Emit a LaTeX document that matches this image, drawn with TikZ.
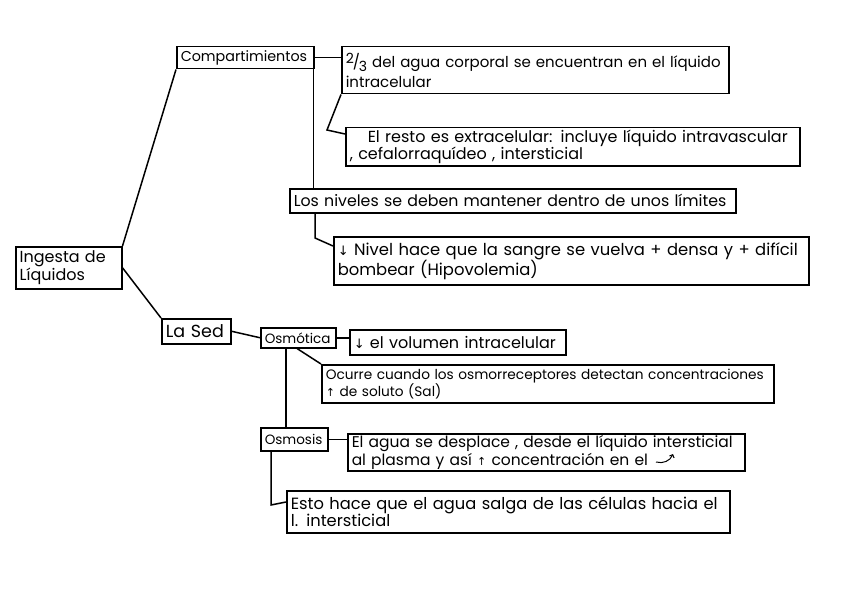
\documentclass[tikz,border=0pt]{standalone}
\usepackage{fontspec}
\setmainfont{Poppins}[WordSpace=1.5]
\newfontfamily\arr{DejaVu Sans}
\usetikzlibrary{calc,arrows.meta}
\newcommand{\hw}{\fontsize{16}{16.5}\selectfont}
\newcommand{\hwsmall}{\fontsize{13.5}{16}\selectfont}
\newcommand{\dn}{{\arr\fontsize{13}{16}\selectfont ↓}}
\newcommand{\up}{{\arr\fontsize{11}{16}\selectfont ↑}}
\tikzset{
  box/.style={draw, line width=1.5pt, anchor=north west, inner xsep=4pt, inner ysep=1pt, align=left, font=\hw},
  link/.style={line width=1.5pt}
}
\begin{document}
\begin{tikzpicture}[x=1pt,y=-1pt]
\useasboundingbox (0,0) rectangle (848,599);
\node[box, minimum width=106pt, minimum height=42pt, text width=98pt] (ing) at (15,246) {\mbox{Ingesta de}\\ \mbox{Líquidos}};
\node[box, font=\fontsize{14.3}{16}\selectfont, minimum width=137pt, minimum height=22pt, text width=129pt] (comp) at (176,46) {\mbox{Compartimientos}};
\node[box, font=\fontsize{15}{17}\selectfont, minimum width=387pt, minimum height=47pt, text width=379pt] (dos) at (341,46) {\mbox{\raisebox{4pt}{\fontsize{14}{16}\selectfont 2}\kern-1pt{/}\kern-1pt\raisebox{-4pt}{\fontsize{14}{16}\selectfont 3} del agua corporal se encuentran en el líquido}\\[3pt] \mbox{intracelular}};
\node[box, minimum width=454pt, minimum height=38pt, text width=446pt] (resto) at (345,127) {\mbox{\hspace*{18pt}El resto es extracelular: incluye líquido intravascular}\\ \mbox{, cefalorraquídeo , intersticial}};
\node[box, font=\fontsize{15.8}{16}\selectfont, minimum width=446pt, minimum height=24pt, text width=438pt] (niv) at (289,188) {\mbox{Los niveles se deben mantener dentro de unos límites}};
\node[box, font=\fontsize{16.4}{20}\selectfont, minimum width=475pt, minimum height=48pt, text width=467pt] (nivel) at (333,236) {\mbox{\dn{} Nivel hace que la sangre se vuelva + densa y + difícil}\\ \mbox{bombear (Hipovolemia)}};
\node[box, font=\fontsize{17.5}{18}\selectfont, minimum width=69pt, minimum height=25pt, text width=61pt] (sed) at (161,318) {\mbox{La Sed}};
\node[box, font=\hwsmall, minimum width=75pt, minimum height=20pt, text width=67pt] (osm) at (260,327) {\mbox{Osmótica}};
\node[box, minimum width=216pt, minimum height=25pt, text width=208pt] (vol) at (349,329) {\mbox{\dn{} el volumen intracelular}};
\node[box, font=\fontsize{13.7}{16}\selectfont, minimum width=452pt, minimum height=38pt, text width=444pt] (ocu) at (321,364) {\mbox{Ocurre cuando los osmorreceptores detectan concentraciones}\\ \mbox{\up{} de soluto (Sal)}};
\node[box, font=\hwsmall, minimum width=67pt, minimum height=23pt, text width=59pt] (osmo) at (260,427) {\mbox{Osmosis}};
\node[box, font=\fontsize{15.5}{15.5}\selectfont, minimum width=397pt, minimum height=37pt, text width=389pt] (agua) at (347,433) {\mbox{El agua se desplace , desde el líquido intersticial}\\ \mbox{al plasma y así \up{} concentración en el}};
\node[box, font=\fontsize{16.3}{17}\selectfont, minimum width=443pt, minimum height=42pt, text width=435pt] (esto) at (286,490) {\mbox{Esto hace que el agua salga de las células hacia el}\\ \mbox{l. intersticial}};
% coordinates
\coordinate (c1) at (327,130);
\coordinate (c2) at (315,238);
\coordinate (c3) at (271,505);
\coordinate (v1) at ($(comp.south east)+(-1,0)$);
\coordinate (v2) at ($(niv.south west)+(26,0)$);
\coordinate (v3) at ($(osm.south west)+(37,0)$);
\coordinate (v4) at ($(osm.south west)+(26,0)$);
\coordinate (v5) at ($(osmo.south west)+(11,0)$);
\coordinate (r1) at ($(resto.north west)+(0,7)$);
\coordinate (r2) at ($(nivel.north west)+(0,10)$);
\coordinate (r3) at ($(esto.north west)+(0,12)$);
% connectors
\draw[link] (ing.north east) -- (comp.south west);
\draw[link] (ing.east) -- (sed.north west);
\draw[link] (comp.east) -- (dos.west |- comp.east);
\draw[link] (v1) -- (v1 |- niv.north);
\draw[link] (dos.south west) -- (c1) -- (r1);
\draw[link] (v2) -- (c2) -- (r2);
\draw[link] (sed.east) -- (osm.west);
\draw[link] (osm.east) -- (vol.west |- osm.east);
\draw[link] (v3) -- (ocu.north west);
\draw[link] (v4) -- (v4 |- osmo.north);
\draw[link] (osmo.east) -- (agua.west |- osmo.east);
\draw[link] (v5) -- (c3) -- (r3);
% curved arrow symbol (no font glyph)
\coordinate (s1) at (656,462);
\coordinate (s2) at (673,454);
\draw[line width=1pt, -{Straight Barb[length=2.5pt]}] (s1) .. controls (663,464) and (670,461) .. (s2);
\end{tikzpicture}
\end{document}
